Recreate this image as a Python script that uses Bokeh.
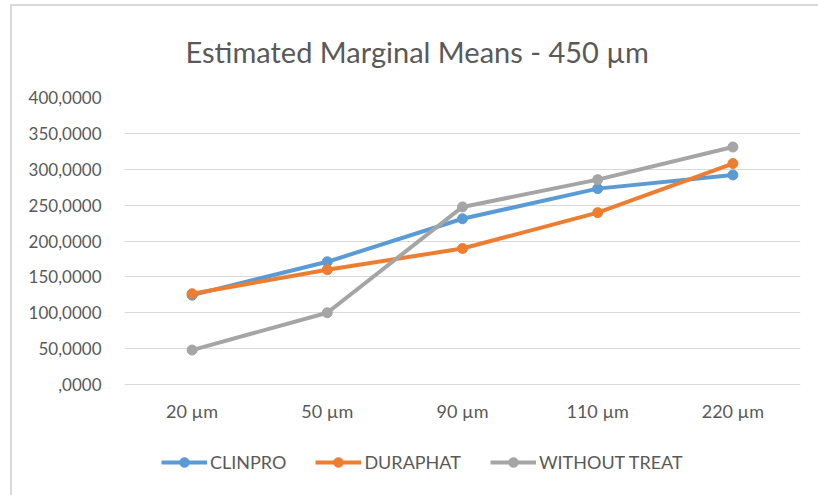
from bokeh.plotting import figure
from bokeh.models import (FixedTicker, CustomJSTickFormatter, Legend, LegendItem, Title)
from bokeh.embed import file_html
from bokeh.resources import INLINE

categories = ["20 µm", "50 µm", "90 µm", "110 µm", "220 µm"]
clinpro = [124.5, 171.0, 231.0, 273.0, 292.0]
duraphat = [126.5, 160.0, 189.5, 239.5, 308.0]
without_treat = [48.0, 100.0, 247.5, 285.5, 331.0]
series_names = ["CLINPRO", "DURAPHAT", "WITHOUT TREAT"]
y_ticks = [0, 50, 100, 150, 200, 250, 300, 350, 400]

colors = ["#5B9BD5", "#ED7D31", "#A5A5A5"]
FONT = "Lato"
TXT = "#595959"

W, H = 818, 495
TOP, ZERO = 97, 384          # pixel rows of the 400 and 0 gridlines
y_top = y_ticks[-1]
y_start = -y_top * (H - ZERO) / (ZERO - TOP)   # frame reaches canvas bottom

p = figure(width=W, height=H, x_range=categories, y_range=(y_start, y_top),
           output_backend="svg", toolbar_location=None,
           min_border_left=124, min_border_right=18,
           min_border_top=TOP, min_border_bottom=0)
# chart-area border (left and top edges) drawn as CSS background behind a transparent border fill
p.border_fill_alpha = 0
p.styles = {"background": "linear-gradient(#D9D9D9, #D9D9D9) 10px 4px / 2px 100% no-repeat, "
                          "linear-gradient(#D9D9D9, #D9D9D9) 10px 4px / 100% 2px no-repeat, white"}
p.title = None
t = Title(text="Estimated Marginal Means - 450 µm", align="left",
          text_font=FONT, text_font_size="29px", text_font_style="normal",
          text_color=TXT, standoff=57, offset=61)
p.add_layout(t, "above")

p.outline_line_color = None
p.background_fill_color = "white"

p.xgrid.grid_line_color = None
p.ygrid.grid_line_color = "#D9D9D9"
p.ygrid.grid_line_width = 1
p.ygrid.ticker = FixedTicker(ticks=y_ticks)

p.yaxis.ticker = FixedTicker(ticks=y_ticks)
p.yaxis.formatter = CustomJSTickFormatter(
    code="return (tick == 0 ? '' : tick.toFixed(0)) + ',0000';")
p.xaxis.fixed_location = 0
for ax in (p.xaxis, p.yaxis):
    ax.axis_line_color = None
    ax.major_tick_line_color = None
    ax.minor_tick_line_color = None
    ax.major_label_text_font = FONT
    ax.major_label_text_color = TXT
p.yaxis.major_label_text_font_size = "17px"
p.xaxis.major_label_text_font_size = "18px"
p.yaxis.major_label_standoff = 17
p.xaxis.major_label_standoff = 9

items = []
for name, vals, c in zip(series_names, [clinpro, duraphat, without_treat], colors):
    l = p.line(categories, vals, line_color=c, line_width=4)
    s = p.scatter(categories, vals, size=10, fill_color=c, line_color=c)
    items.append(LegendItem(label=name, renderers=[l, s]))

legend = Legend(items=items, orientation="horizontal", location=(37, 21),
                label_text_font=FONT, label_text_font_size="18px",
                label_text_color=TXT, glyph_width=46, glyph_height=24,
                label_standoff=3, spacing=29, border_line_color=None,
                background_fill_alpha=0, padding=4, margin=0)
p.add_layout(legend, "center")

open("out.html", "w").write(file_html(p, INLINE))
